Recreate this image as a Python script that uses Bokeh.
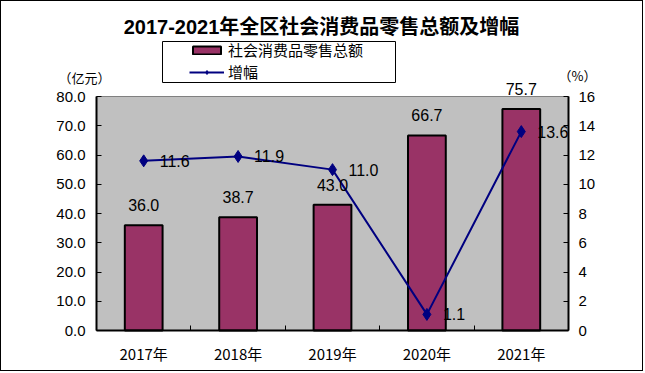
from bokeh.plotting import figure
from bokeh.models import (Range1d, LinearAxis, FixedTicker, NumeralTickFormatter, LabelSet, Label,
                          ColumnDataSource, Legend, LegendItem, BoxAnnotation)
from bokeh.core.properties import value
from bokeh.embed import file_html
from bokeh.resources import INLINE

# ---- data ----
years = ["2017年", "2018年", "2019年", "2020年", "2021年"]
sales = [36.0, 38.7, 43.0, 66.7, 75.7]          # 亿元
growth = [11.6, 11.9, 11.0, 1.1, 13.6]          # %
left_ticks = [0, 10, 20, 30, 40, 50, 60, 70, 80]
right_ticks = [0, 2, 4, 6, 8, 10, 12, 14, 16]
title_text = "2017-2021年全区社会消费品零售总额及增幅"
bar_name = "社会消费品零售总额"
line_name = "增幅"
left_unit = "（亿元）"
right_unit = "（%）"

# ---- layout helpers (reference pixel -> data) ----
W, H = 643, 371          # + 1px border each side = 645 x 373
FL, FR, FT, FB = 96, 568, 96, 330   # plot-area edges in reference pixels
n = len(years)
ymax = left_ticks[-1]
def dx(px):
    return (px - FL) * n / (FR - FL)
def dy(py):
    return (FB - py) * ymax / (FB - FT)

ratio = right_ticks[-1] / left_ticks[-1]

xs = [i + 0.5 for i in range(n)]
src = ColumnDataSource(dict(
    x=xs, sales=sales, growth=growth,
    sales_lbl=[f"{v:.1f}" for v in sales],
    growth_lbl=[f"{v:.1f}" for v in growth],
))

p = figure(width=W, height=H, output_backend="svg", toolbar_location=None,
           x_range=Range1d(dx(1), dx(1 + W)), y_range=Range1d(dy(1 + H), dy(1)),
           min_border=0)
p.extra_y_ranges = {"pct": Range1d(dy(1 + H) * ratio, dy(1) * ratio)}
p.styles = {"border": "1px solid black"}
p.background_fill_color = "white"
p.border_fill_color = "white"
p.outline_line_color = None
p.grid.visible = False

CJK = "Noto Sans CJK SC"
NUM = "Liberation Sans"

# plot-area background
p.quad(left=0, right=n, bottom=left_ticks[0], top=left_ticks[-1],
       fill_color="#C0C0C0", line_color="#808080", line_width=1)

# x axis
xa = p.xaxis[0]
xa.fixed_location = left_ticks[0]
xa.bounds = (0, n)
xa.ticker = FixedTicker(ticks=xs, minor_ticks=[i for i in range(1, n)])
xa.major_label_overrides = {x: y for x, y in zip(xs, years)}
xa.major_tick_in = 0
xa.major_tick_out = 0
xa.minor_tick_in = 5
xa.minor_tick_out = 0
xa.minor_tick_line_color = "black"
xa.axis_line_color = "black"
xa.axis_line_width = 2
xa.major_label_text_font = CJK
xa.major_label_text_font_size = "15px"
xa.major_label_text_color = "black"
xa.major_label_standoff = 12

# left axis
ya = p.yaxis[0]
ya.fixed_location = 0
ya.bounds = (left_ticks[0], left_ticks[-1])
ya.ticker = FixedTicker(ticks=left_ticks)
ya.formatter = NumeralTickFormatter(format="0.0")
ya.major_tick_in = 5
ya.major_tick_out = 0
ya.minor_tick_in = 0
ya.minor_tick_out = 0
ya.axis_line_color = "black"
ya.axis_line_width = 2
ya.major_tick_line_color = "black"
ya.major_label_text_font = NUM
ya.major_label_text_font_size = "15px"
ya.major_label_text_color = "black"
ya.major_label_standoff = 11

# right axis
ra = LinearAxis(y_range_name="pct", ticker=FixedTicker(ticks=right_ticks))
ra.fixed_location = n
ra.bounds = (right_ticks[0], right_ticks[-1])
ra.major_tick_in = 5
ra.major_tick_out = 0
ra.minor_tick_in = 0
ra.minor_tick_out = 0
ra.axis_line_color = "black"
ra.axis_line_width = 2
ra.major_tick_line_color = "black"
ra.major_label_text_font = NUM
ra.major_label_text_font_size = "15px"
ra.major_label_text_color = "black"
ra.major_label_standoff = 10
p.add_layout(ra, "right")

# bars
bars = p.vbar(x="x", top="sales", width=0.4, source=src,
              fill_color="#993366", line_color="black", line_width=2)

# line
ln = p.line(x="x", y="growth", source=src, y_range_name="pct",
            line_color="#000080", line_width=2)
mk = p.scatter(x="x", y="growth", source=src, y_range_name="pct", marker="diamond",
               size=12, fill_color="#000080", line_color="#000080")

# value labels
p.add_layout(LabelSet(x="x", y="sales", text="sales_lbl", source=src,
                      text_align="center", text_baseline="middle", y_offset=20,
                      text_font=value(NUM), text_font_size=value("16px"),
                      text_color="black"))
p.add_layout(LabelSet(x="x", y="growth", text="growth_lbl", source=src, y_range_name="pct",
                      text_align="left", text_baseline="middle", x_offset=16,
                      text_font=value(NUM), text_font_size=value("16px"),
                      text_color="black"))

# title & unit labels
p.add_layout(Label(x=dx(321), y=dy(26), text=title_text, text_align="center",
                   text_baseline="middle", text_font=f"{NUM}, {CJK}",
                   text_font_size="20px", text_font_style="bold", text_color="black"))
p.add_layout(Label(x=dx(84), y=dy(77), text=left_unit, text_align="center",
                   text_baseline="middle", text_font=CJK, text_font_size="13px",
                   text_color="black"))
p.add_layout(Label(x=dx(577), y=dy(75), text=right_unit, text_align="center",
                   text_baseline="middle", text_font=CJK, text_font_size="13px",
                   text_color="black"))

# legend box + legend
p.add_layout(BoxAnnotation(left=dx(162), right=dx(395), top=dy(41), bottom=dy(82),
                           fill_color="white", fill_alpha=1, line_color="black",
                           line_width=1, line_alpha=1, level="annotation"))
legend = Legend(items=[LegendItem(label=bar_name, renderers=[bars]),
                       LegendItem(label=line_name, renderers=[ln, mk])],
                location=(189 - 1 - 2, (1 + H) - 84), padding=2, spacing=1,
                glyph_width=35, glyph_height=10, label_height=20, label_standoff=4,
                label_text_font=CJK, label_text_font_size="15px",
                label_text_color="black",
                background_fill_alpha=0, border_line_alpha=0)
p.add_layout(legend)

open("out.html", "w").write(file_html(p, INLINE))
